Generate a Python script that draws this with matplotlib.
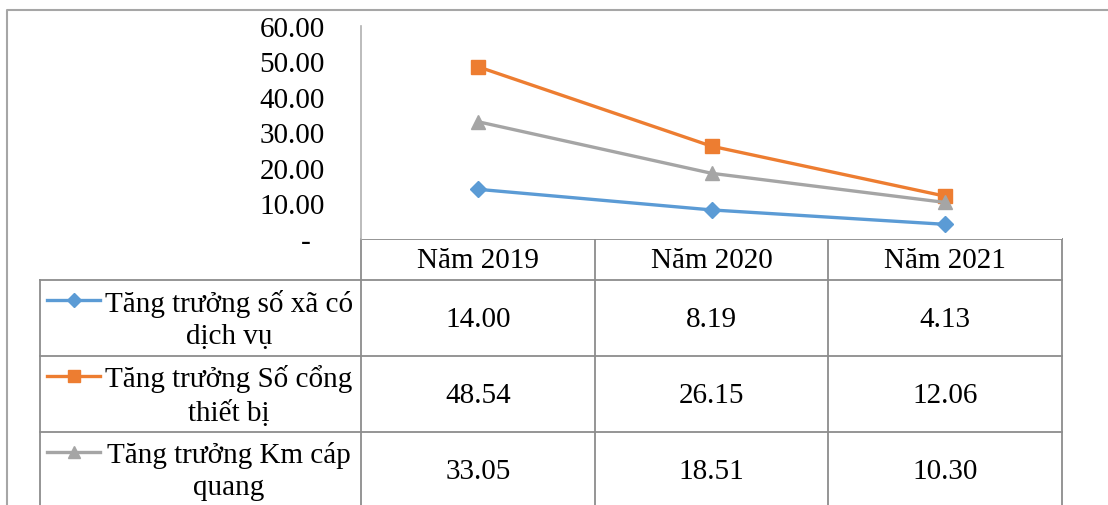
import matplotlib.pyplot as plt
from matplotlib.lines import Line2D

plt.rcParams['font.family'] = ['Liberation Serif', 'DejaVu Serif']

years = ['Năm 2019', 'Năm 2020', 'Năm 2021']
series_names = ['Tăng trưởng số xã có\ndịch vụ',
                'Tăng trưởng Số cổng\nthiết bị',
                'Tăng trưởng Km cáp\nquang']
xa_dich_vu = [14.00, 8.19, 4.13]
cong_thiet_bi = [48.54, 26.15, 12.06]
km_cap_quang = [33.05, 18.51, 10.30]
yticks = [0, 10, 20, 30, 40, 50, 60]

values = [xa_dich_vu, cong_thiet_bi, km_cap_quang]
colors = ['#5b9bd5', '#ed7d31', '#a5a5a5']
markers = ['D', 's', '^']
msizes = [8, 10, 10]
FS = 21

W, H = 1108, 506
fig = plt.figure(figsize=(W / 100, H / 100), dpi=100)

# pixel layout
x0, x1 = 361, 1062      # plot area / table columns
y_top, y_zero = 27, 240
ax = fig.add_axes([x0 / W, 1 - y_zero / H, (x1 - x0) / W, (y_zero - y_top) / H])
for vals, c, m, ms in zip(values, colors, markers, msizes):
    ax.plot(range(len(years)), vals, color=c, lw=2.4, marker=m, ms=ms,
            markeredgecolor=c, clip_on=False)
ax.set_xlim(-0.5, len(years) - 0.5)
ax.set_ylim(0, 60)
ax.set_yticks(yticks)
ax.set_yticklabels(['-  ' if v == 0 else f'{v:.2f}' for v in yticks], fontsize=FS)
ax.set_xticks([])
for s in ['top', 'right', 'bottom']:
    ax.spines[s].set_visible(False)
ax.spines['left'].set_color('#b0b0b0')
ax.spines['left'].set_linewidth(1.2)
ax.tick_params(axis='y', length=0, pad=26)

# overlay for chart frame and data table
ov = fig.add_axes([0, 0, 1, 1], zorder=-1)
ov.set_xlim(0, W)
ov.set_ylim(H, 0)
ov.axis('off')
ov.patch.set_alpha(0)

frame = '#a6a6a6'
grid = '#8c8c8c'
ov.plot([7, 7, W], [H, 11, 11], color=frame, lw=1.5)

col_w = (x1 - x0) / len(years)
leg_x = 40
row_y = [240, 281, 357, 433, 509]
# horizontal lines
ov.plot([x0, x1], [row_y[0], row_y[0]], color=grid, lw=1.3)
for y in row_y[1:4]:
    ov.plot([leg_x, x1], [y, y], color=grid, lw=1.3)
# vertical lines
ov.plot([leg_x, leg_x], [row_y[1], H], color=grid, lw=1.3)
for i in range(len(years) + 1):
    xx = x0 + i * col_w
    ov.plot([xx, xx], [row_y[0], H], color=grid, lw=1.3)

for i, yr in enumerate(years):
    ov.text(x0 + (i + 0.5) * col_w, (row_y[0] + row_y[1]) / 2 + 1, yr,
            ha='center', va='center', fontsize=FS)

for r, (name, vals, c, m, ms) in enumerate(zip(series_names, values, colors, markers, msizes)):
    top, bot = row_y[r + 1], row_y[r + 2]
    cy = (top + bot) / 2
    ov.add_line(Line2D([47, 100], [top + 20, top + 20], color=c, lw=2.4))
    ov.plot([73.5], [top + 20], marker=m, color=c, ms=ms - 1)
    ov.text(229, cy + 1, name, ha='center', va='center', fontsize=FS, linespacing=1.3)
    for i, v in enumerate(vals):
        ov.text(x0 + (i + 0.5) * col_w, cy + 1, f'{v:.2f}', ha='center', va='center',
                fontsize=FS)

fig.savefig('out.png', dpi=100)
